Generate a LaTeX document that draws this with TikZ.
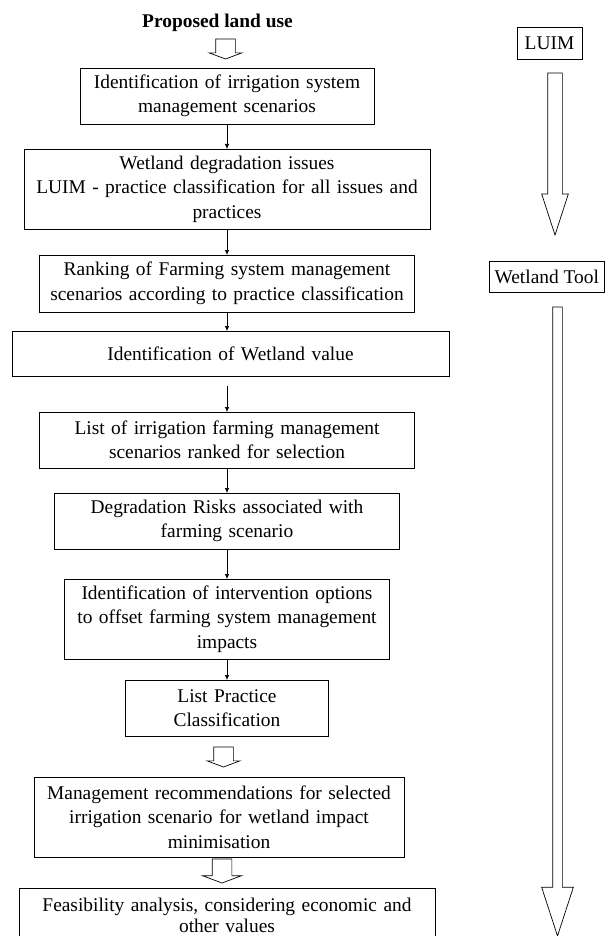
\documentclass[tikz,border=0pt]{standalone}
\usepackage{fontspec}
\setmainfont{Liberation Serif}
\usepackage{tikz}
\usetikzlibrary{arrows.meta, positioning, calc, shapes.arrows}

\begin{document}
\begin{tikzpicture}[
    x=1pt, y=-1pt,
    font=\fontsize{19.4}{24.5}\selectfont,
    stage/.style={draw, line width=0.7pt, align=center, inner sep=0pt, outer sep=0pt},
    tag/.style={draw, line width=0.7pt, inner sep=0pt, outer sep=0pt},
    flow/.style={line width=0.7pt, -{Latex[length=5pt, width=4.5pt]}},
    hollow/.style={single arrow, draw, line width=0.7pt, rotate=-90, anchor=tail,
                   inner xsep=0pt, inner ysep=9.5pt, outer sep=0pt,
                   minimum height=20pt, single arrow head extend=6.5pt,
                   single arrow tip angle=139},
    track/.style={single arrow, draw, line width=0.7pt, rotate=-90, anchor=tail,
                  inner xsep=0pt, outer sep=0pt, single arrow tip angle=36}
]
\useasboundingbox (0,0) rectangle (605,936);
\node (title) at (217.5,23) {\bfseries Proposed land use};
\node[stage, text width=294pt, minimum height=56pt] (s1) at (227,96) {Identification of irrigation system\\ management scenarios};
\node[stage, text width=406pt, minimum height=80pt, below=25pt of s1] (s2) {Wetland degradation issues\\ LUIM - practice classification for all issues and\\ practices};
\node[stage, text width=375pt, minimum height=57pt, below=26pt of s2] (s3) {Ranking of Farming system management\\ scenarios according to practice classification};
\node[stage, text width=437pt, minimum height=45pt, below=19pt of s3, xshift=3.5pt] (s4) {Identification of Wetland value};
\node[stage, text width=375pt, minimum height=56pt, below=36pt of s4, xshift=-3.5pt] (s5) {List of irrigation farming management\\ scenarios ranked for selection};
\node[stage, text width=345pt, minimum height=56pt, below=25pt of s5] (s6) {Degradation Risks associated with\\ farming scenario};
\node[stage, text width=325pt, minimum height=80pt, below=30pt of s6] (s7) {Identification of intervention options\\ to offset farming system management\\ impacts};
\node[stage, text width=203pt, minimum height=56pt, below=21pt of s7] (s8) {List Practice\\ Classification};
\node[stage, text width=370pt, minimum height=80pt, below=41pt of s8, xshift=-8pt] (s9) {Management recommendations for selected\\ irrigation scenario for wetland impact\\ minimisation};
\node[stage, text width=416pt, minimum height=55pt, below=31pt of s9, xshift=8pt,
      font=\fontsize{19.4}{21.5}\selectfont] (s10) {Feasibility analysis, considering economic and\\ other values};
\coordinate (g4) at ($(s5.north)+(0,-26)$);

\node[hollow] (a1) at ($(s1.north)+(-1.5,-29)$) {};
\node[hollow] (a2) at ($(s8.south)+(-3.5,11)$) {};
\node[hollow, minimum height=24pt, single arrow head extend=9.5pt] (a3) at ($(s9.south)+(3,2)$) {};

\node[tag, minimum width=65pt, minimum height=32pt] (luim) at (549.5,43) {LUIM};
\node[tag, minimum width=115.5pt, minimum height=31pt] (wtool) at (546.75,276.5) {Wetland Tool};
\node[track, minimum height=162pt, inner ysep=7pt, single arrow head extend=6pt] (b1) at ($(luim.south)+(5.5,14)$) {};
\node[track, minimum height=629pt, inner ysep=4.5pt, single arrow head extend=11pt] (b2) at ($(wtool.south)+(10.75,15)$) {};

\draw[flow] (s1.south) -- (s1.south |- s2.north);
\draw[flow] (s2.south) -- (s2.south |- s3.north);
\draw[flow] (s3.south) -- (s3.south |- s4.north);
\draw[flow] (g4) -- (s5.north);
\draw[flow] (s5.south) -- (s5.south |- s6.north);
\draw[flow] (s6.south) -- (s6.south |- s7.north);
\draw[flow] (s7.south) -- (s7.south |- s8.north);
\end{tikzpicture}
\end{document}
